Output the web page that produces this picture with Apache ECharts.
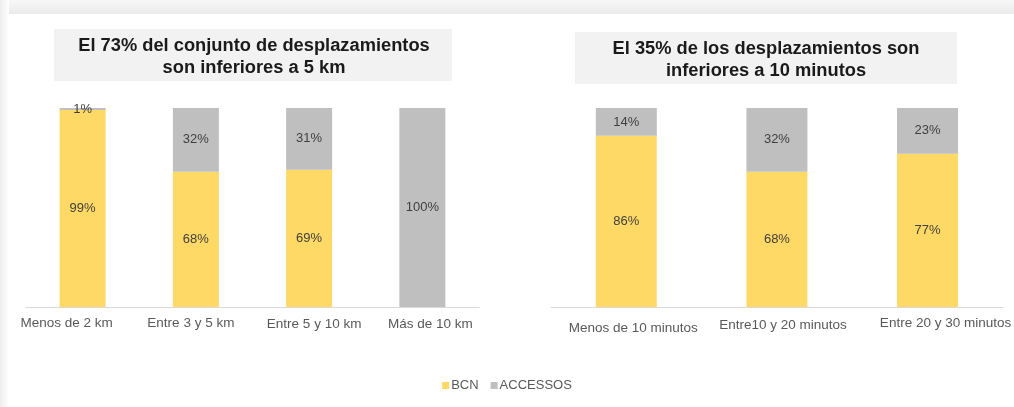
<!DOCTYPE html>
<html>
<head>
<meta charset="utf-8">
<script src="https://cdn.jsdelivr.net/npm/echarts@6/dist/echarts.min.js"></script>
<style>
html,body{margin:0;padding:0;background:#fff;}
#frameTop{position:absolute;left:0;top:0;width:1014px;height:14px;background:linear-gradient(#f7f7f7,#ebebeb);}
#frameLeft{position:absolute;left:0;top:0;width:9px;height:407px;background:linear-gradient(90deg,#eeeeee,#ffffff);}
#main{position:absolute;left:0;top:0;width:1014px;height:407px;}
</style>
</head>
<body>
<div id="frameTop"></div>
<div id="frameLeft"></div>
<div id="main"></div>
<script>
const distCategories = ['Menos de 2 km', 'Entre 3 y 5 km', 'Entre 5 y 10 km', 'Más de 10 km'];
const distBCN = [99, 68, 69, 0];
const distAccessos = [1, 32, 31, 100];

const timeCategories = ['Menos de 10 minutos', 'Entre10 y 20 minutos', 'Entre 20 y 30 minutos'];
const timeBCN = [86, 68, 77];
const timeAccessos = [14, 32, 23];

const seriesNames = ['BCN', 'ACCESSOS'];
const titles = ['El 73% del conjunto de desplazamientos\nson inferiores a 5 km', 'El 35% de los desplazamientos son\ninferiores a 10 minutos'];

const YELLOW = '#FFD966';
const GRAY = '#BFBFBF';
const FONT = 'Liberation Sans, Arial, sans-serif';

// label nudges (layout only): [dx, dy] per category, as in the original slide
const distLabelNudge = [[-16, 0], [-5, 0], [5, 1], [8, 1]];
const timeLabelNudge = [[7, 5], [6, 2], [18, 0]];

const chart = echarts.init(document.getElementById('main'), null, {renderer: 'canvas'});

function lbl() {
  return {
    show: true, position: 'inside', color: '#404040', fontSize: 13, fontFamily: FONT,
    formatter: p => p.value > 0 ? p.value + '%' : ''
  };
}
function catItems(cats, nudges) {
  return cats.map((c, i) => {
    const dx = nudges[i][0], dy = nudges[i][1];
    return {
      value: c,
      textStyle: {
        padding: [dy, Math.max(-dx, 0) * 2, 0, Math.max(dx, 0) * 2]
      }
    };
  });
}
function xAx(idx, cats, nudges) {
  return {
    type: 'category', gridIndex: idx, data: catItems(cats, nudges),
    axisLine: {lineStyle: {color: '#D9D9D9', width: 1}},
    axisTick: {show: false},
    axisLabel: {color: '#595959', fontSize: 13.5, fontFamily: FONT, margin: 9, interval: 0, verticalAlign: 'top'}
  };
}
function yAx(idx) {
  return {type: 'value', gridIndex: idx, min: 0, max: 100, show: false, splitLine: {show: false}};
}

chart.setOption({
  animation: false,
  backgroundColor: 'transparent',
  title: [
    {text: titles[0], left: 249, top: 30, textAlign: 'center',
     textStyle: {fontFamily: FONT, fontSize: 18.3, fontWeight: 'bold', color: '#1a1a1a', lineHeight: 22}},
    {text: titles[1], left: 761, top: 33, textAlign: 'center',
     textStyle: {fontFamily: FONT, fontSize: 18.3, fontWeight: 'bold', color: '#1a1a1a', lineHeight: 22}}
  ],
  graphic: [
    {type: 'rect', z: -1, shape: {x: 54, y: 29, width: 398, height: 52}, style: {fill: '#F2F2F2'}},
    {type: 'rect', z: -1, shape: {x: 575, y: 32, width: 382, height: 52}, style: {fill: '#F2F2F2'}}
  ],
  legend: {
    data: seriesNames, bottom: 10, left: 'center', icon: 'rect', itemWidth: 7, itemHeight: 7, itemGap: 12,
    textStyle: {color: '#595959', fontSize: 13, fontFamily: FONT, padding: [0, 0, 0, -3]}
  },
  grid: [
    {left: 26, width: 453, top: 108, height: 199},
    {left: 551, width: 453, top: 108, height: 199}
  ],
  xAxis: [xAx(0, distCategories, distLabelNudge), xAx(1, timeCategories, timeLabelNudge)],
  yAxis: [yAx(0), yAx(1)],
  series: [
    {name: seriesNames[0], type: 'bar', stack: 'a', xAxisIndex: 0, yAxisIndex: 0, data: distBCN, barWidth: 46,
     itemStyle: {color: YELLOW}, label: lbl()},
    {name: seriesNames[1], type: 'bar', stack: 'a', xAxisIndex: 0, yAxisIndex: 0, data: distAccessos, barWidth: 46,
     itemStyle: {color: GRAY}, label: lbl()},
    {name: seriesNames[0], type: 'bar', stack: 'b', xAxisIndex: 1, yAxisIndex: 1, data: timeBCN, barWidth: 61,
     itemStyle: {color: YELLOW}, label: lbl()},
    {name: seriesNames[1], type: 'bar', stack: 'b', xAxisIndex: 1, yAxisIndex: 1, data: timeAccessos, barWidth: 61,
     itemStyle: {color: GRAY}, label: lbl()}
  ]
});
</script>
</body>
</html>
